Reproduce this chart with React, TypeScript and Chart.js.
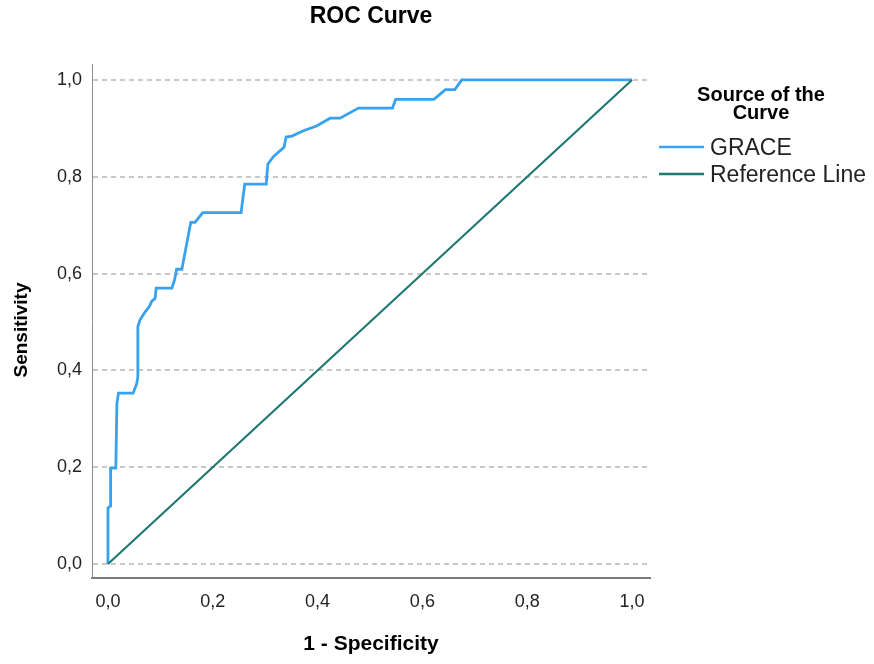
import React, { useEffect, useRef } from 'react';
import { Chart, registerables } from 'chart.js';

Chart.register(...registerables);

// ---- Data ----
const graceFpr = [
  0, 0, 0.005, 0.005, 0.015, 0.017, 0.02, 0.048, 0.055, 0.057, 0.057, 0.061, 0.071, 0.079, 0.083, 0.09,
  0.092, 0.122, 0.127, 0.131, 0.141, 0.158, 0.166, 0.181, 0.254, 0.261, 0.302, 0.305, 0.316, 0.336,
  0.34, 0.351, 0.373, 0.398, 0.424, 0.443, 0.478, 0.543, 0.549, 0.622, 0.644, 0.662, 0.675, 1,
];
const graceTpr = [
  0, 0.116, 0.12, 0.198, 0.198, 0.332, 0.353, 0.353, 0.373, 0.387, 0.49, 0.504, 0.521, 0.532, 0.542, 0.549,
  0.57, 0.57, 0.587, 0.609, 0.609, 0.706, 0.706, 0.726, 0.726, 0.785, 0.785, 0.826, 0.842, 0.861,
  0.882, 0.884, 0.895, 0.905, 0.921, 0.921, 0.942, 0.942, 0.96, 0.96, 0.98, 0.98, 1, 1,
];
const referenceX = [0, 1];
const referenceY = [0, 1];
const xTickValues = [0, 0.2, 0.4, 0.6, 0.8, 1.0];
const yTickValues = [0, 0.2, 0.4, 0.6, 0.8, 1.0];
const seriesNames = ['GRACE', 'Reference Line'];
const chartTitle = 'ROC Curve';
const xAxisTitle = '1 - Specificity';
const yAxisTitle = 'Sensitivity';
const legendTitleLines = ['Source of the', 'Curve'];

const GRACE_COLOR = '#38a2ee';
const REF_COLOR = '#1f7873';
const FONT = '"Liberation Sans", Arial, sans-serif';

const fmt = (v: number) => Number(v).toFixed(1).replace('.', ',');

const overlayPlugin = {
  id: 'overlay',
  afterDraw(chart: any) {
    const { ctx, chartArea } = chart;
    ctx.save();
    // Title
    ctx.fillStyle = '#000';
    ctx.font = `bold 23px ${FONT}`;
    ctx.textAlign = 'center';
    ctx.textBaseline = 'middle';
    ctx.fillText(chartTitle, (chartArea.left + chartArea.right) / 2, 17);

    // Y axis title
    ctx.save();
    ctx.translate(22, 330);
    ctx.rotate(-Math.PI / 2);
    ctx.font = `bold 19px ${FONT}`;
    ctx.fillText(yAxisTitle, 0, 0);
    ctx.restore();

    // Legend title
    ctx.font = `bold 20px ${FONT}`;
    legendTitleLines.forEach((t, i) => ctx.fillText(t, 761, 95 + i * 18));

    // Legend items
    const colors = [GRACE_COLOR, REF_COLOR];
    const ys = [147, 174];
    ctx.textAlign = 'left';
    ctx.font = `23px ${FONT}`;
    seriesNames.forEach((name, i) => {
      ctx.strokeStyle = colors[i];
      ctx.lineWidth = 2.5;
      ctx.beginPath();
      ctx.moveTo(659, ys[i]);
      ctx.lineTo(704, ys[i]);
      ctx.stroke();
      ctx.fillStyle = '#222';
      ctx.fillText(name, 710, ys[i] + 2);
    });
    ctx.restore();
  },
};

export default function App() {
  const canvasRef = useRef<HTMLCanvasElement | null>(null);

  useEffect(() => {
    document.body.style.margin = '0';
    const canvas = canvasRef.current;
    if (!canvas) return;
    const chart = new Chart(canvas, {
      type: 'scatter',
      data: {
        datasets: [
          {
            label: seriesNames[1],
            data: referenceX.map((x, i) => ({ x, y: referenceY[i] })),
            showLine: true,
            borderColor: REF_COLOR,
            borderWidth: 2.2,
            pointRadius: 0,
            tension: 0,
            order: 0,
          },
          {
            label: seriesNames[0],
            data: graceFpr.map((x, i) => ({ x, y: graceTpr[i] })),
            showLine: true,
            borderColor: GRACE_COLOR,
            borderWidth: 2.8,
            pointRadius: 0,
            tension: 0,
            order: 1,
          },
        ],
      },
      options: {
        responsive: false,
        animation: false,
        devicePixelRatio: 1,
        layout: { padding: { left: 0, right: 224, top: 64, bottom: 0 } },
        plugins: {
          legend: { display: false },
          title: { display: false },
          tooltip: { enabled: false },
        },
        scales: {
          x: {
            type: 'linear',
            position: 'bottom',
            min: -0.0305,
            max: 1.0344,
            afterBuildTicks: (s: any) => {
              s.ticks = xTickValues.map((v) => ({ value: v }));
            },
            afterFit: (s: any) => {
              s.height = 86;
            },
            grid: { display: false, drawTicks: false },
            border: { display: true, color: '#7a7a7a', width: 2 },
            ticks: {
              font: { family: FONT, size: 18 },
              color: '#222',
              padding: 13,
              maxRotation: 0,
              callback: (v: any) => fmt(v),
            },
            title: {
              display: true,
              text: xAxisTitle,
              font: { family: FONT, size: 21, weight: 'bold' },
              color: '#000',
              padding: { top: 0, bottom: 7 },
            },
          },
          y: {
            type: 'linear',
            min: -0.0289,
            max: 1.033,
            afterBuildTicks: (s: any) => {
              s.ticks = yTickValues.map((v) => ({ value: v }));
            },
            afterFit: (s: any) => {
              s.width = 92;
            },
            grid: { color: '#c8c8c8', lineWidth: 2, drawTicks: false },
            border: { display: true, color: '#8a8a8a', width: 1, dash: [5, 4] },
            ticks: {
              font: { family: FONT, size: 18 },
              color: '#222',
              padding: 10,
              callback: (v: any) => fmt(v),
            },
            title: { display: false },
          },
        },
      },
      plugins: [overlayPlugin],
    } as any);
    return () => chart.destroy();
  }, []);

  return <canvas ref={canvasRef} width={874} height={664} style={{ display: 'block' }} />;
}
